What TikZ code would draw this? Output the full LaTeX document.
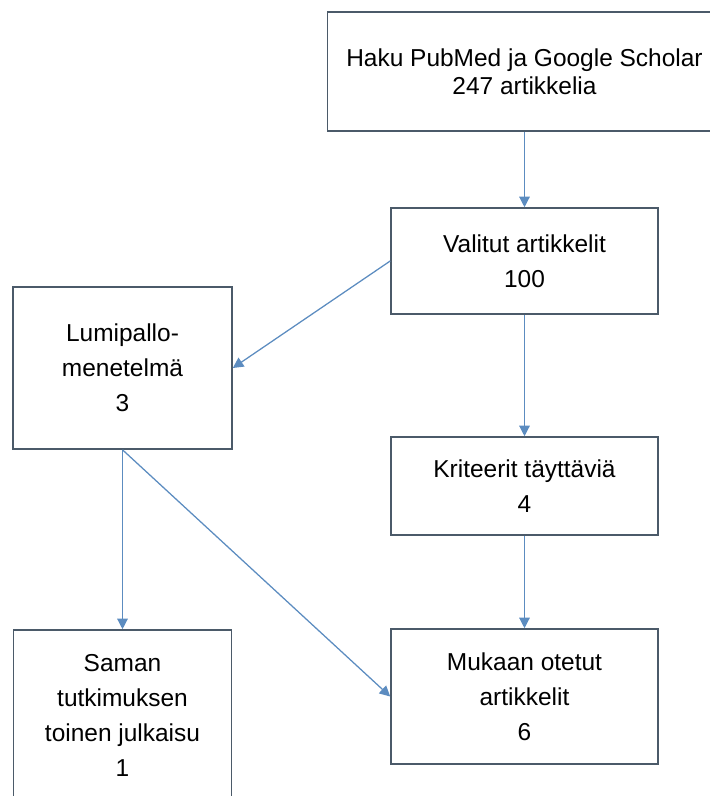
\documentclass[tikz,border=0pt]{standalone}
\usepackage{fontspec}
\setmainfont{Liberation Sans}
\usetikzlibrary{arrows.meta}
\definecolor{boxline}{RGB}{75,90,105}
\definecolor{arrowblue}{RGB}{92,140,192}
\tikzset{
	stagebox/.style={draw=boxline, line width=1.1pt, align=center, inner sep=0pt,
		font=\fontsize{17.4}{24.9}\selectfont},
	flow/.style={draw=arrowblue, line width=0.9pt, -{Triangle[length=7.5pt,width=7.5pt]}}
}
\begin{document}
\begin{tikzpicture}[x=0.025cm, y=-0.025cm]
	\useasboundingbox (0,0) rectangle (710,796);
	\clip (0,0) rectangle (710,796);

	% Search and selection
	\node[stagebox, minimum width=9.85cm, minimum height=2.975cm,
		font=\fontsize{17.4}{19.9}\selectfont] (haku) at (524.5,71.5) {Haku PubMed ja Google Scholar\\247 artikkelia};
	\node[stagebox, minimum width=6.675cm, minimum height=2.65cm] (valitut) at (524.5,261) {Valitut artikkelit\\100};
	\node[stagebox, minimum width=6.675cm, minimum height=2.45cm] (kriteerit) at (524.5,486) {Kriteerit täyttäviä\\4};
	\node[stagebox, minimum width=6.675cm, minimum height=3.375cm] (mukaan) at (524.5,696.5) {Mukaan otetut\\artikkelit\\6};

	% Snowball branch
	\node[stagebox, minimum width=5.475cm, minimum height=4.05cm] (lumipallo) at (122.5,368) {Lumipallo-\\menetelmä\\3};
	\node[stagebox, minimum width=5.45cm, minimum height=4.25cm] (saman) at (122.5,715) {Saman\\tutkimuksen\\toinen julkaisu\\1};

	% Arrows
	\draw[flow] (haku) -- (valitut);
	\draw[flow] (valitut) -- (kriteerit);
	\draw[flow] (kriteerit) -- (mukaan);
	\draw[flow] (valitut.west) -- (lumipallo.east);
	\draw[flow] (lumipallo.south) -- (saman.north);
	\draw[flow] (lumipallo.south) -- (mukaan.west);
\end{tikzpicture}
\end{document}
